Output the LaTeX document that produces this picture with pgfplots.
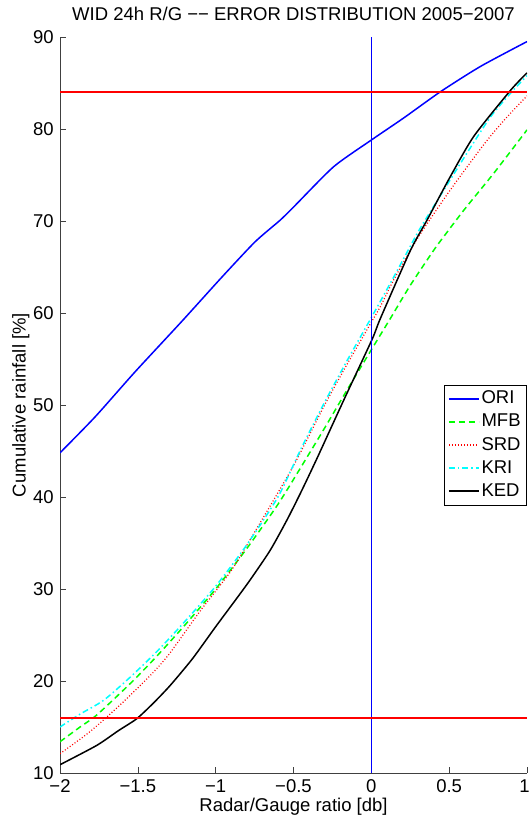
\documentclass[border=0pt]{standalone}
\usepackage{fontspec}
\setmainfont{Liberation Sans}
\usepackage{pgfplots}
\usepackage{pgfplotstable}
\pgfplotsset{compat=1.18}
\definecolor{mblue}{RGB}{0,0,255}
\definecolor{mgreen}{RGB}{0,255,0}
\definecolor{mred}{RGB}{255,0,0}
\definecolor{mcyan}{RGB}{0,255,255}
\pgfplotstableread{
x y
0 10
0 90
}\zeroline
\begin{document}
\fontsize{18.5}{22}\selectfont
\begin{tikzpicture}
\useasboundingbox (-60pt,-46pt) rectangle (470pt,773pt);
\begin{axis}[
  scale only axis, width=467pt, height=736pt,
  xmin=-2, xmax=1, ymin=10, ymax=90,
  axis x line=bottom, axis y line=left,
  axis line style={-, black!75, line width=0.6pt},
  tick style={black!75, line width=0.6pt},
  tick align=inside, major tick length=6pt,
  xtick={-2,-1.5,-1,-0.5,0,0.5,1},
  xticklabels={−2,−1.5,−1,−0.5,0,0.5,{\hspace*{-5pt}1}},
  ytick={10,20,30,40,50,60,70,80,90},
  /pgf/number format/assume math mode=true,
  tick label style={font=\fontsize{18.5}{22}\selectfont},
  label style={font=\fontsize{18.5}{22}\selectfont},
  title style={font=\fontsize{18.5}{22}\selectfont, yshift=4pt},
  xlabel style={yshift=7pt},
  ylabel style={yshift=-9pt},
  title={WID 24h R/G −− ERROR DISTRIBUTION 2005−2007},
  xlabel={Radar/Gauge ratio [db]},
  ylabel={Cumulative rainfall [\%]},
  legend style={at={(rel axis cs:1,0.4457)}, anchor=east, draw=black, line width=0.8pt,
    fill=white, font=\fontsize{18.5}{22}\selectfont, row sep=3.5pt, inner xsep=4pt, inner ysep=4pt},
  legend cell align=left,
  legend image code/.code={\draw[#1] (0pt,0pt) -- (30pt,0pt);},
]
\addplot[mblue, line width=1.5pt, smooth, tension=0.4] coordinates {
(-2,44.8) (-1.775,48.7) (-1.518,53.6) (-1.217,59.1) (-0.960,63.9) (-0.746,67.75)
(-0.585,70.1) (-0.489,71.7) (-0.242,75.9) (0,78.8) (0.208,81.2) (0.444,84.05)
(0.701,86.8) (1.0,89.5)};
\addlegendentry{ORI}
\addplot[mgreen, line width=1.5pt, dash pattern=on 6pt off 4pt, smooth, tension=0.4] coordinates {
(-2,13.4) (-1.871,15.0) (-1.764,16.3) (-1.55,19.7) (-1.4,22.3) (-1.207,25.9) (-1.0,30.0)
(-0.8,34.4) (-0.6,39.2) (-0.45,43.3) (-0.3,47.5) (-0.15,51.8) (0.0,56.0) (0.122,59.4)
(0.25,63.0) (0.4,66.8) (0.465,68.3) (0.6,71.3) (0.787,75.2) (1.0,79.9)};
\addlegendentry{MFB}
\addplot[mred, line width=1.2pt, dash pattern=on 1pt off 2pt, smooth, tension=0.4] coordinates {
(-2,12.1) (-1.807,14.5) (-1.614,17.4) (-1.42,20.6) (-1.3,22.9) (-1.1,27.6) (-0.9,32.0)
(-0.735,36.6) (-0.5,43.4) (-0.3,50.0) (-0.15,54.6) (0.0,59.0) (0.058,60.7)
(0.15,63.8) (0.3,68.2) (0.5,73.2) (0.722,78.3) (0.85,80.9) (1.0,83.6)};
\addlegendentry{SRD}
\addplot[mcyan, line width=1.5pt, dash pattern=on 6pt off 3pt on 1.5pt off 3pt, smooth, tension=0.4] coordinates {
(-2,15.0) (-1.871,16.4) (-1.72,17.9) (-1.55,20.4) (-1.378,23.2) (-1.207,26.3) (-1.0,30.3)
(-0.8,34.8) (-0.6,40.0) (-0.45,45.3) (-0.3,50.3) (-0.15,55.0) (0.0,59.5) (0.15,64.1)
(0.3,68.8) (0.423,72.2) (0.6,77.0) (0.765,81.3) (0.9,84.0) (1.0,85.8)};
\addlegendentry{KRI}
\addplot[black, line width=1.5pt, smooth, tension=0.4] coordinates {
(-2,10.9) (-1.764,13.0) (-1.625,14.6) (-1.507,15.9) (-1.4,17.6) (-1.293,19.5) (-1.15,22.4)
(-1.0,25.9) (-0.864,29.0) (-0.778,31.0) (-0.65,34.2) (-0.542,37.5) (-0.45,40.6)
(-0.349,44.2) (-0.178,50.5) (0.004,57.1) (0.058,59.4) (0.251,66.8) (0.358,70.1)
(0.5,74.6) (0.658,79.2) (0.894,84.2) (1.0,86.1)};
\addlegendentry{KED}
\addplot[color=mblue, line width=1.6pt, forget plot] table[x=x, y=y] {\zeroline};
\addplot[draw=mred, line width=1.5pt, forget plot] coordinates {(-2,84) (1,84)};
\addplot[draw=mred, line width=1.5pt, forget plot] coordinates {(-2,16) (1,16)};
\end{axis}
\end{tikzpicture}
\end{document}
